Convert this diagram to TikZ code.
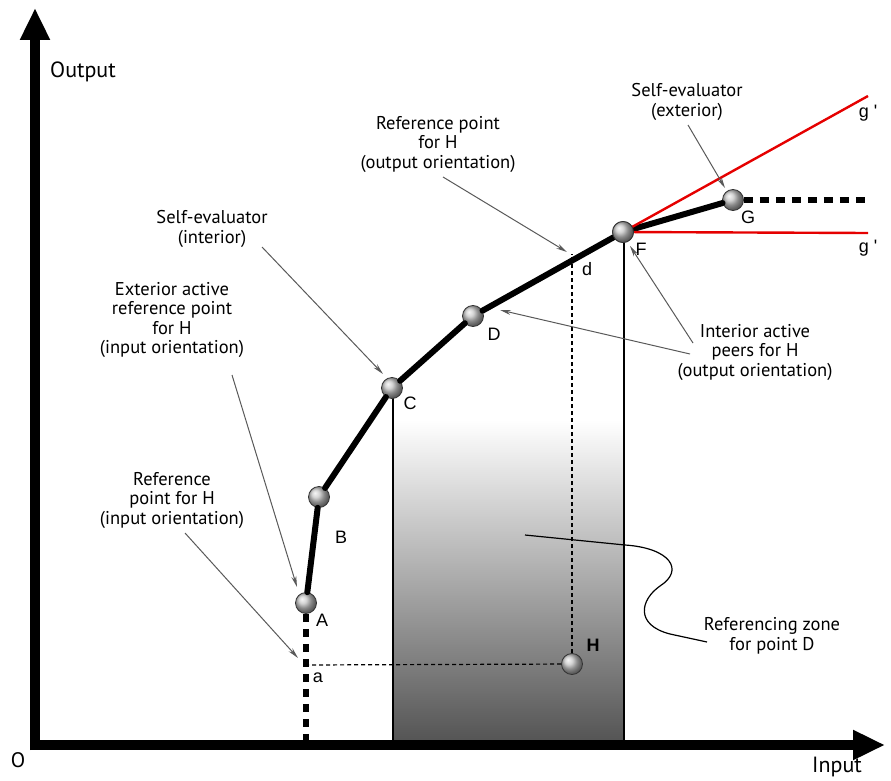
\documentclass[tikz,border=0pt]{standalone}
\usepackage{fontspec}
\setmainfont{PT Sans}
\newfontfamily\lblfont{Liberation Sans}
\usepackage{tikz}
\usetikzlibrary{arrows.meta}
\tikzstyle{ball} = [circle, draw=black!80, line width=0.8pt, inner sep=0pt, minimum size=21pt, shading=ball, ball color=gray!45]
\tikzstyle{axis} = [line width=10pt, -{Triangle[length=32pt,width=28pt]}]
\tikzstyle{frontier} = [line width=6pt, line cap=round]
\tikzstyle{note} = [align=center, font=\fontsize{18.5}{19.5}\selectfont]
\tikzstyle{pointer} = [gray!70!black, line width=1pt, -{Stealth[length=11pt,width=5pt]}]
\tikzstyle{lbl} = [font=\lblfont\fontsize{18}{20}\selectfont]

\begin{document}
\begin{tikzpicture}[x=1pt, y=-1pt]
\useasboundingbox (0,0) rectangle (891,781);

% referencing zone
\shade[top color=white, bottom color=gray!65!black] (393,420) rectangle (624,744);
\draw[line width=1.5pt] (393,388) -- (393,744);
\draw[line width=1.5pt] (624,232) -- (624,744);

% axes
\coordinate (O) at (35,745);
\coordinate (ytop) at (35,8);
\coordinate (xend) at (885,745);
\draw[axis] (35,750) -- (ytop);
\draw[axis] (30,745) -- (xend);
\node (out) [font=\fontsize{22}{24}\selectfont] at (83,72) {Output};
\node (in) [font=\fontsize{22}{24}\selectfont] at (837,767) {Input};
\node (o) [font=\fontsize{21}{24}\selectfont] at (18,760) {O};

% points
\node (A) [ball] at (306,603) {};
\node (B) [ball] at (319,497) {};
\node (C) [ball] at (392,388) {};
\node (D) [ball] at (473,316) {};
\node (F) [ball] at (623,232) {};
\node (G) [ball] at (733,200) {};
\node (H) [ball] at (572,664) {};
\coordinate (d) at (572,254);
\coordinate (a) at (306,665);
\coordinate (abase) at (306,740);
\coordinate (gend) at (870,200);
\coordinate (g1) at (868,96);
\coordinate (g2) at (868,233);

% frontier
\draw[frontier] (A) -- (B) -- (C) -- (D) -- (F) -- (G);
\draw[line width=6pt, dash pattern=on 8pt off 7pt] (A) -- (abase);
\draw[line width=6pt, dash pattern=on 9pt off 7pt] (G) -- (gend);
\draw[red!90!black, line width=2.4pt] (F.center) -- (g1);
\draw[red!90!black, line width=2.4pt] (F.center) -- (g2);
\node (F) [ball] at (623,232) {};
\draw[line width=1.2pt, dash pattern=on 4pt off 3pt] (H) -- (d);
\draw[line width=1.2pt, dash pattern=on 4pt off 3pt] (H) -- (a);

% labels
\node (lA) [lbl] at (322,620) {A};
\node (lB) [lbl] at (341,537) {B};
\node (lC) [lbl] at (410,403) {C};
\node (lD) [lbl] at (494,334) {D};
\node (lF) [lbl] at (641,249) {F};
\node (lG) [lbl] at (748,217) {G};
\node (ld) [lbl] at (587,269) {d};
\node (la) [lbl] at (318,678) {a};
\node (lH) [lbl, font=\lblfont\bfseries\fontsize{18}{20}\selectfont] at (593,645) {H};
\node (lg1) [lbl] at (868,113) {g '};
\node (lg2) [lbl] at (868,248) {g '};

% annotations
\node (refin) [note] at (172,500) {Reference\\point for H\\(input orientation)};
\node (extin) [note] at (172,320) {Exterior active\\reference point\\for H\\(input orientation)};
\node (selfin) [note] at (212,229) {Self-evaluator\\(interior)};
\node (refout) [note] at (438,144) {Reference point\\for H\\(output orientation)};
\node (selfex) [note] at (687,102) {Self-evaluator\\(exterior)};
\node (peers) [note] at (755,352) {Interior active\\peers for H\\(output orientation)};
\node (zone) [note] at (772,636) {Referencing zone\\for point D};

\coordinate (p1) at (185,533);
\coordinate (p2) at (232,375);
\coordinate (p3) at (262,247);
\coordinate (p4) at (443,177);
\coordinate (p5) at (688,125);
\coordinate (p6) at (690,354);
\coordinate (p7) at (693,343);
\draw[pointer] (p1) -- (298,658);
\draw[pointer] (p2) -- (297,587);
\draw[pointer] (p3) -- (383,374);
\draw[pointer] (p4) -- (567,252);
\draw[pointer] (p5) -- (725,188);
\draw[pointer] (p6) -- (500,310);
\draw[pointer] (p7) -- (630,246);

% squiggle
\draw[line width=1.2pt] (525,535) -- (625,545) .. controls (670,548) and (685,570) .. (660,586)
  .. controls (640,600) and (635,625) .. (670,634) -- (707,642);

\end{tikzpicture}
\end{document}
